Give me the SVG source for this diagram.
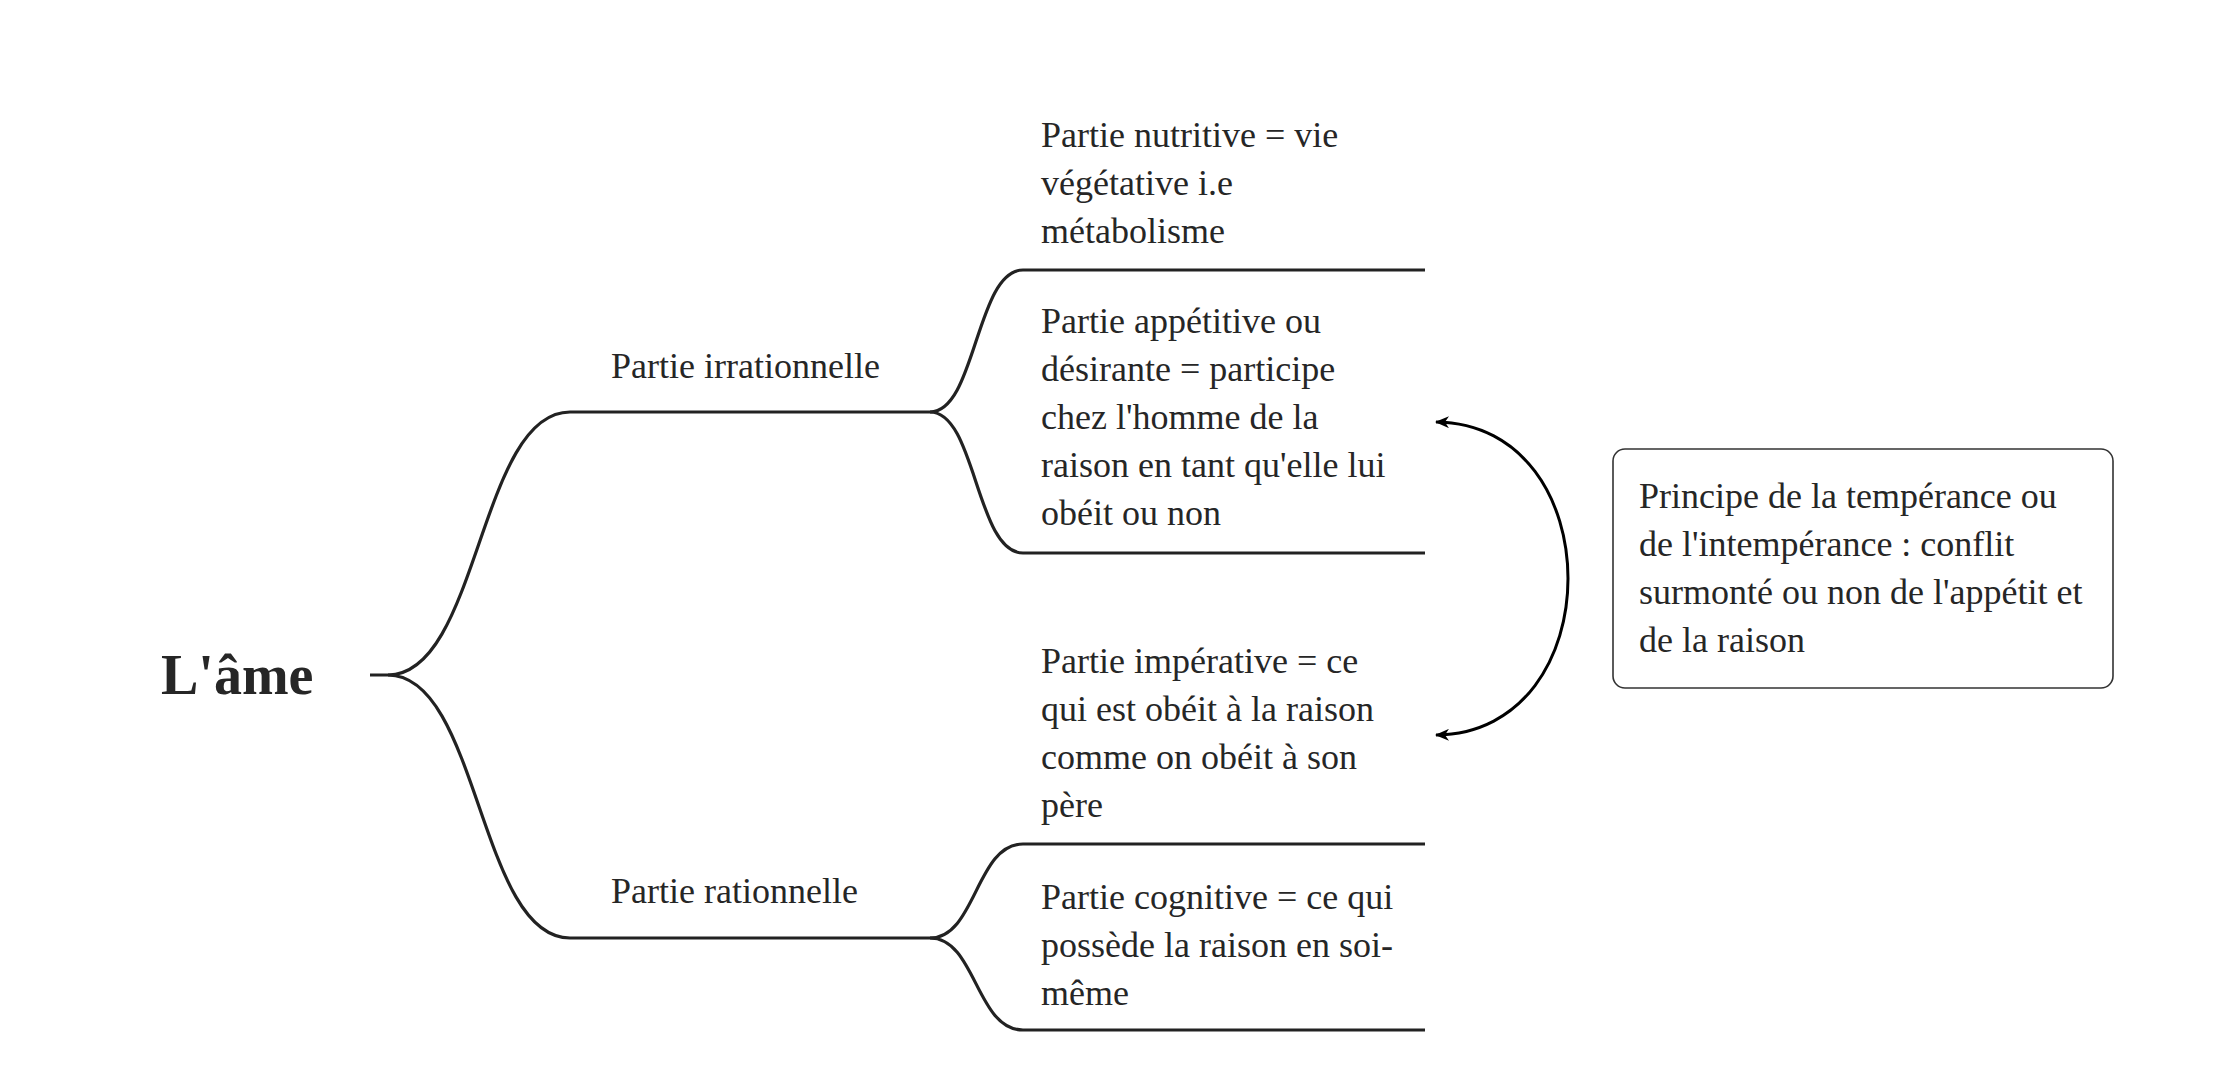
<svg xmlns="http://www.w3.org/2000/svg" width="2214" height="1078" viewBox="0 0 2214 1078">
<defs>
<style>
.t{font-family:"Liberation Serif","Times New Roman",serif;font-size:36px;fill:#262626}
.root{font-family:"Liberation Serif","Times New Roman",serif;font-size:56px;font-weight:bold;fill:#262626}
.ul{stroke:#222;stroke-width:3.2;fill:none}
.br{stroke:#222;stroke-width:3.2;fill:none}
.rel{stroke:#000;stroke-width:3;fill:none}
.box{fill:#fff;stroke:#333;stroke-width:1.6}
</style>
<marker id="ah" viewBox="0 0 14 12" refX="13" refY="6" markerWidth="14" markerHeight="12" markerUnits="userSpaceOnUse" orient="auto-start-reverse">
<path d="M0,0 L14,6 L0,12 L4,6 Z" fill="#000"/>
</marker>
</defs>
<rect width="2214" height="1078" fill="#fff"/>

<g id="connectors">
<path class="br" d="M370,675 L388,675 C479,675 479,412 570,412"/>
<path class="br" d="M388,675 C479,675 479,938 570,938"/>
<path class="br" d="M922,412 L930,412 C976,412 976,270 1023,270"/>
<path class="br" d="M930,412 C976,412 976,553 1023,553"/>
<path class="br" d="M922,938 L930,938 C976,938 976,844 1023,844"/>
<path class="br" d="M930,938 C976,938 976,1030 1023,1030"/>
<path class="rel" d="M1436,422 C1612,424 1612,733 1436,735" marker-start="url(#ah)" marker-end="url(#ah)"/>
</g>

<g id="node-root">
<text class="root" x="161" y="694">L'âme</text>
</g>

<g id="node-irrationnelle">
<text class="t" x="611" y="378">Partie irrationnelle</text>
<line class="ul" x1="570" y1="412" x2="922" y2="412"/>
</g>

<g id="node-rationnelle">
<text class="t" x="611" y="903">Partie rationnelle</text>
<line class="ul" x1="570" y1="938" x2="922" y2="938"/>
</g>

<g id="node-nutritive">
<text class="t" x="1041" y="147">Partie nutritive = vie</text>
<text class="t" x="1041" y="195">végétative i.e</text>
<text class="t" x="1041" y="243">métabolisme</text>
<line class="ul" x1="1023" y1="270" x2="1425" y2="270"/>
</g>

<g id="node-appetitive">
<text class="t" x="1041" y="333">Partie appétitive ou</text>
<text class="t" x="1041" y="381">désirante = participe</text>
<text class="t" x="1041" y="429">chez l'homme de la</text>
<text class="t" x="1041" y="477">raison en tant qu'elle lui</text>
<text class="t" x="1041" y="525">obéit ou non</text>
<line class="ul" x1="1023" y1="553" x2="1425" y2="553"/>
</g>

<g id="node-imperative">
<text class="t" x="1041" y="673">Partie impérative = ce</text>
<text class="t" x="1041" y="721">qui est obéit à la raison</text>
<text class="t" x="1041" y="769">comme on obéit à son</text>
<text class="t" x="1041" y="817">père</text>
<line class="ul" x1="1023" y1="844" x2="1425" y2="844"/>
</g>

<g id="node-cognitive">
<text class="t" x="1041" y="909">Partie cognitive = ce qui</text>
<text class="t" x="1041" y="957">possède la raison en soi-</text>
<text class="t" x="1041" y="1005">même</text>
<line class="ul" x1="1023" y1="1030" x2="1425" y2="1030"/>
</g>

<g id="node-principe">
<rect class="box" x="1613" y="449" width="500" height="239" rx="12" ry="12"/>
<text class="t" x="1639" y="508">Principe de la tempérance ou</text>
<text class="t" x="1639" y="556">de l'intempérance : conflit</text>
<text class="t" x="1639" y="604">surmonté ou non de l'appétit et</text>
<text class="t" x="1639" y="652">de la raison</text>
</g>
</svg>
